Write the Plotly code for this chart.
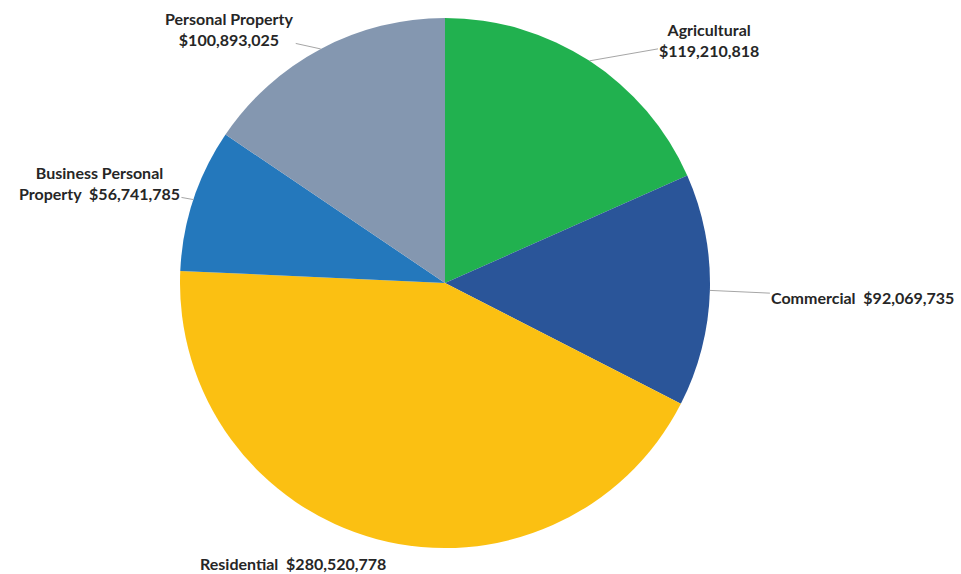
import math
import plotly.graph_objects as go

categories = ["Agricultural", "Commercial", "Residential", "Business Personal Property", "Personal Property"]
values = [119210818, 92069735, 280520778, 56741785, 100893025]
label_texts = [
    "Agricultural<br>$119,210,818",
    "Commercial  $92,069,735",
    "Residential  $280,520,778",
    "Business Personal<br>Property  $56,741,785",
    "Personal Property<br>$100,893,025",
]
colors = ["#21B14F", "#2A5599", "#FBC012", "#2478BC", "#8497B0"]
# label offsets (pixels) relative to slice edge midpoint, and leader-line visibility
label_offsets = [(120, -21), (153, 7), (-84, 24), (-94, -17), (-91, -20)]
leader_visible = [True, True, False, True, True]

W, H = 961, 574
cx, cy, r = 445, 283, 265  # pixel geometry of pie

dom_x = [(cx - r) / W, (cx + r) / W]
dom_y = [1 - (cy + r) / H, 1 - (cy - r) / H]

fig = go.Figure(go.Pie(
    labels=categories, values=values, sort=False, direction="clockwise",
    marker=dict(colors=colors, line=dict(width=0)),
    textinfo="none", hoverinfo="label+value", showlegend=False,
    domain=dict(x=dom_x, y=dom_y),
))

total = sum(values)
cum = 0
annotations = []
for cat, v, txt, (ax, ay), vis in zip(categories, values, label_texts, label_offsets, leader_visible):
    mid = (cum + v / 2) / total * 2 * math.pi
    cum += v
    px = cx + r * math.sin(mid)
    py = cy - r * math.cos(mid)
    annotations.append(dict(
        x=px / W, y=1 - py / H, xref="paper", yref="paper",
        text=txt, showarrow=True, arrowhead=0, arrowwidth=1,
        arrowcolor="#A6A6A6" if vis else "rgba(0,0,0,0)",
        ax=ax, ay=ay, align="center",
        font=dict(family="Lato", size=16, color="#262626", weight="bold"),
    ))

fig.update_layout(
    width=W, height=H, margin=dict(l=0, r=0, t=0, b=0),
    paper_bgcolor="white", plot_bgcolor="white",
    annotations=annotations,
)
fig.write_html(
    "out.html",
    config={"displayModeBar": False},
    post_script="document.body.style.margin='0';document.body.style.overflow='hidden';",
)
